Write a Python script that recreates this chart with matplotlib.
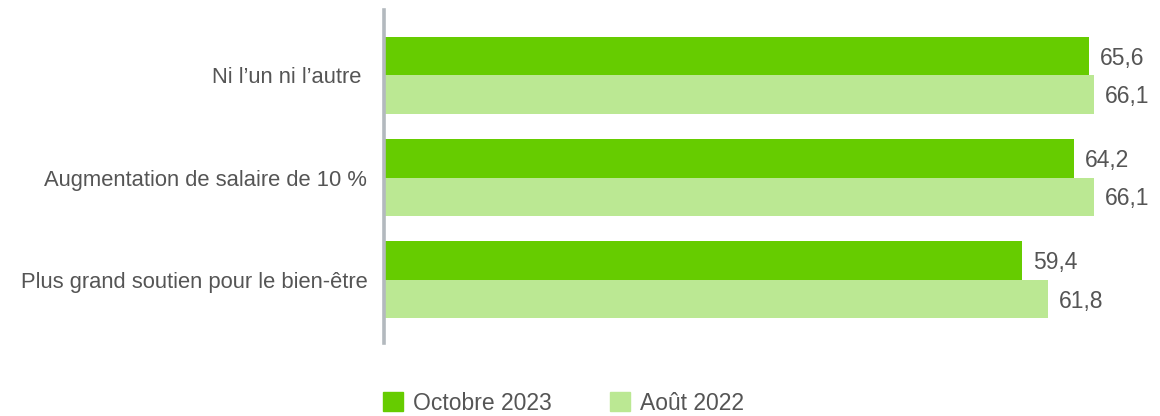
import numpy as np
import matplotlib.pyplot as plt
from matplotlib.patches import Patch

# DATA
categories = ["Ni l\u2019un ni l\u2019autre ", "Augmentation de salaire de 10 %", "Plus grand soutien pour le bien-\u00eatre"]
oct_2023 = [65.6, 64.2, 59.4]
aout_2022 = [66.1, 66.1, 61.8]
series_names = ["Octobre 2023", "Ao\u00fbt 2022"]

dark_green = "#66CC00"
light_green = "#BBE893"
text_col = "#555555"

plt.rcParams['font.family'] = ['Liberation Sans', 'DejaVu Sans']

fig = plt.figure(figsize=(11.6, 4.16), dpi=100)
ax = fig.add_axes([384/1160, 1 - 343/416, (1160 - 384)/1160, 333/416])

y = np.arange(len(categories))
h = 0.38

ax.barh(y - h/2, oct_2023, height=h, color=dark_green)
ax.barh(y + h/2, aout_2022, height=h, color=light_green)

# value labels
for yi, v in zip(y, oct_2023):
    ax.text(v + 1.0, yi - h/2 + 0.02, f"{v:.1f}".replace(".", ","), va="center", ha="left",
            fontsize=16.5, color=text_col)
for yi, v in zip(y, aout_2022):
    ax.text(v + 1.0, yi + h/2 + 0.02, f"{v:.1f}".replace(".", ","), va="center", ha="left",
            fontsize=16.5, color=text_col)

ax.set_xlim(0, 72.2)
ax.set_ylim(2.62, -0.64)
ax.set_yticks(y)
ax.set_yticklabels(categories, fontsize=15.8, color=text_col)
ax.tick_params(axis="y", length=0, pad=12)
ax.set_xticks([])

for s in ["top", "right", "bottom"]:
    ax.spines[s].set_visible(False)
ax.spines["left"].set_color("#B3B9BE")
ax.spines["left"].set_linewidth(2.6)

# legend
handles = [Patch(color=dark_green), Patch(color=light_green)]
fig.legend(handles, series_names, loc="center left",
           bbox_to_anchor=(383/1160, 1 - 403/416), ncol=2, frameon=False,
           fontsize=16.5, labelcolor=text_col, handlelength=0.88, handleheight=0.88,
           handletextpad=0.45, columnspacing=2.5, borderpad=0, borderaxespad=0)

plt.savefig("out.png", dpi=100)
